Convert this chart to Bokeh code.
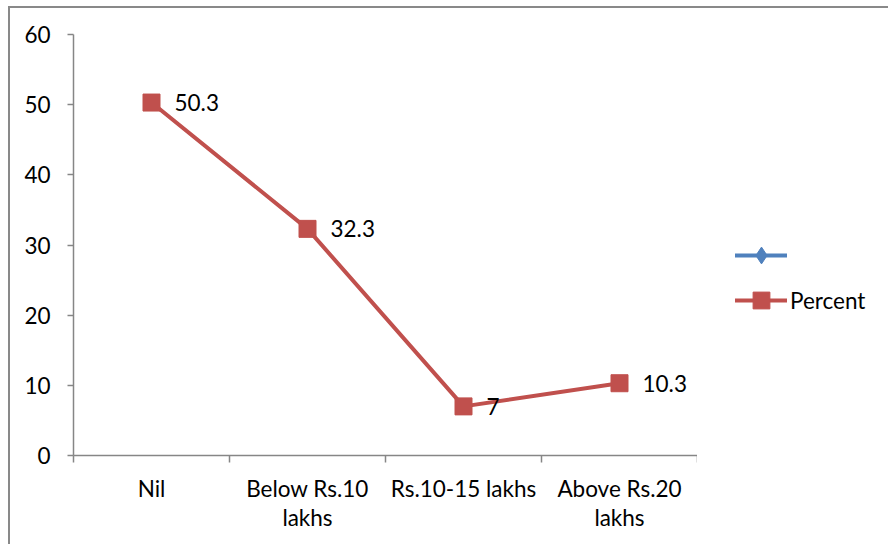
from bokeh.plotting import figure
from bokeh.layouts import row
from bokeh.models import (ColumnDataSource, Range1d, FixedTicker, Legend, LegendItem, LabelSet)
from bokeh.core.properties import value
from bokeh.embed import file_html
from bokeh.resources import INLINE

# Data
categories = ["Nil", "Below Rs.10\nlakhs", "Rs.10-15 lakhs", "Above Rs.20\nlakhs"]
percent = [50.3, 32.3, 7, 10.3]
blank_series = [None, None, None, None]   # unnamed series with no values
y_ticks = [0, 10, 20, 30, 40, 50, 60]

FONT = "Lato"
FSIZE = "22.5px"
AXIS_GREY = "#868686"
RED = "#C0504D"
BLUE = "#4F81BD"
H = 536

centers = [i + 0.5 for i in range(len(categories))]
bounds = list(range(len(categories) + 1))

src = ColumnDataSource(dict(x=centers, y=percent, lbl=[f"{v:g}" for v in percent]))
blank = ColumnDataSource(dict(x=centers, y=[float("nan") if v is None else v for v in blank_series]))

p = figure(width=687, height=H, output_backend="svg", toolbar_location=None,
           x_range=Range1d(0, len(categories)), y_range=Range1d(0, 60),
           min_border_left=63, min_border_right=0, min_border_top=26, min_border_bottom=89)
p.outline_line_color = None
p.xgrid.visible = False
p.ygrid.visible = False
p.background_fill_color = "white"
p.border_fill_color = "white"

# y axis
ya = p.yaxis[0]
ya.ticker = FixedTicker(ticks=y_ticks)
ya.axis_line_color = AXIS_GREY
ya.axis_line_width = 1.5
ya.major_tick_line_color = AXIS_GREY
ya.major_tick_line_width = 1.5
ya.major_tick_out = 6
ya.major_tick_in = 0
ya.minor_tick_line_color = None
ya.major_label_text_font = FONT
ya.major_label_text_font_size = FSIZE
ya.major_label_text_color = "black"
ya.major_label_standoff = 17

# x axis: ticks at category boundaries, labels at category centers
xa = p.xaxis[0]
xa.ticker = FixedTicker(ticks=centers, minor_ticks=bounds)
xa.major_label_overrides = {c: lab for c, lab in zip(centers, categories)}
xa.axis_line_color = AXIS_GREY
xa.axis_line_width = 1.5
xa.major_tick_line_color = None
xa.major_tick_out = 0
xa.major_tick_in = 0
xa.minor_tick_line_color = AXIS_GREY
xa.minor_tick_line_width = 1.5
xa.minor_tick_out = 7
xa.minor_tick_in = 0
xa.major_label_text_font = FONT
xa.major_label_text_font_size = FSIZE
xa.major_label_text_color = "black"
xa.major_label_text_line_height = 1.1
xa.major_label_standoff = 12

# series
p.line("x", "y", source=blank, line_color=BLUE, line_width=4, line_cap="round")
p.line("x", "y", source=src, line_color=RED, line_width=4, line_cap="round")
p.scatter("x", "y", source=src, marker="square", size=17, fill_color=RED, line_color=RED)

labels = LabelSet(x="x", y="y", text="lbl", source=src, x_offset=23,
                  text_align="left", text_baseline="middle",
                  text_font=value(FONT), text_font_size=value(FSIZE), text_color="black")
p.add_layout(labels)

# legend panel beside the chart
leg = figure(width=191, height=H, output_backend="svg", toolbar_location=None,
             x_range=Range1d(10, 11), y_range=Range1d(0, 1),
             x_axis_type=None, y_axis_type=None,
             min_border_left=0, min_border_right=0, min_border_top=0, min_border_bottom=0)
leg.outline_line_color = None
leg.xgrid.visible = False
leg.ygrid.visible = False
lb_line = leg.line("x", "y", source=blank, line_color=BLUE, line_width=4, line_cap="round")
lb_mark = leg.scatter("x", "y", source=blank, marker="diamond", size=16,
                      fill_color=BLUE, line_color=BLUE)
lr_line = leg.line("x", "y", source=src, line_color=RED, line_width=4, line_cap="round")
lr_mark = leg.scatter("x", "y", source=src, marker="square", size=17,
                      fill_color=RED, line_color=RED)
legend = Legend(items=[LegendItem(label=" ", renderers=[lb_line, lb_mark]),
                       LegendItem(label="Percent", renderers=[lr_line, lr_mark])],
                location=(38, 134), orientation="vertical",
                glyph_width=52, glyph_height=42, label_height=42,
                spacing=3, padding=0, margin=0, label_standoff=3,
                border_line_color=None, background_fill_alpha=0,
                label_text_font=FONT, label_text_font_size=FSIZE,
                label_text_color="black")
leg.add_layout(legend, "center")

layout = row(p, leg, spacing=0, margin=(6, 0, 0, 8),
             styles={"border-left": "2px solid #898989", "border-top": "2px solid #898989"})

open("out.html", "w").write(file_html(layout, INLINE))
